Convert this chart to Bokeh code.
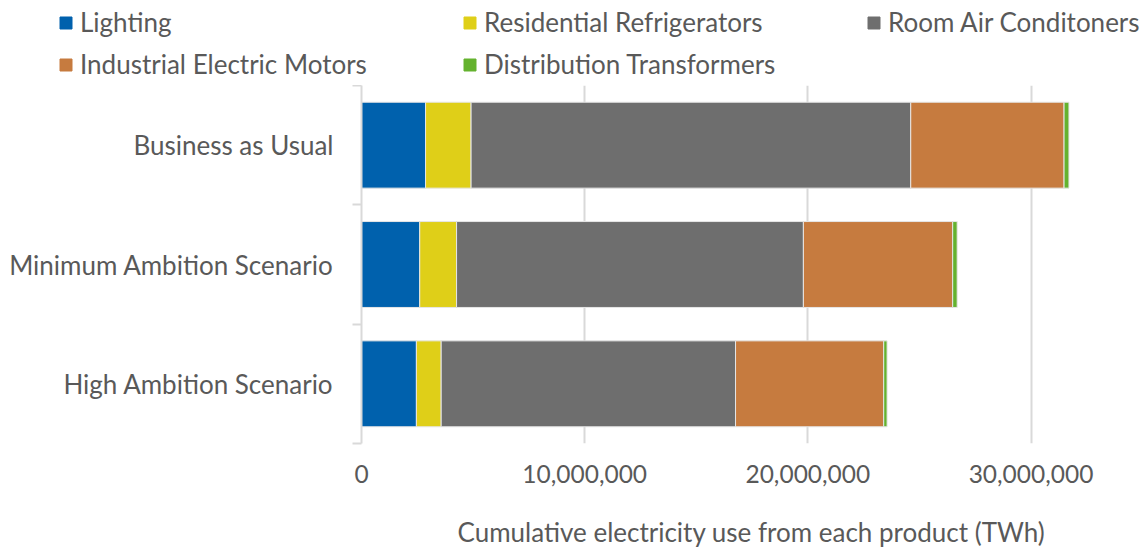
from bokeh.plotting import figure
from bokeh.models import (Range1d, FixedTicker, NumeralTickFormatter, Legend, LegendItem)
from bokeh.embed import file_html
from bokeh.resources import INLINE

# ---- data ----
scenarios = ["Business as Usual", "Minimum Ambition Scenario", "High Ambition Scenario"]
products = ["Lighting", "Residential Refrigerators", "Room Air Conditoners",
            "Industrial Electric Motors", "Distribution Transformers"]
lighting = [2870000, 2610000, 2460000]
refrigerators = [2040000, 1650000, 1110000]
air_conditioners = [19700000, 15540000, 13190000]
electric_motors = [6870000, 6690000, 6640000]
transformers = [220000, 200000, 150000]
x_ticks = [0, 10000000, 20000000, 30000000]
x_title = "Cumulative electricity use from each product (TWh)"

colors = ["#0061AD", "#DFCF18", "#6E6E6E", "#C67B3F", "#64B22E"]
FONT = "Lato"
TXT = "#595959"

# numeric category positions (top to bottom)
ypos = [len(scenarios) - 0.5 - i for i in range(len(scenarios))]
data = dict(y=ypos, lighting=lighting, refrigerators=refrigerators,
            air_conditioners=air_conditioners, electric_motors=electric_motors,
            transformers=transformers)
keys = ["lighting", "refrigerators", "air_conditioners", "electric_motors", "transformers"]

# ---------------- main chart ----------------
p = figure(width=1141, height=465, output_backend="svg", toolbar_location=None,
           x_range=Range1d(0, 34950000), y_range=Range1d(0, len(scenarios)),
           min_border_left=361, min_border_right=0, min_border_top=0, min_border_bottom=103)
p.outline_line_color = None

renderers = p.hbar_stack(keys, y="y", height=0.72, color=colors, source=data,
                         line_color="#e6e6e6", line_width=1)

# x axis
p.xaxis.ticker = FixedTicker(ticks=x_ticks)
p.xaxis.formatter = NumeralTickFormatter(format="0,0")
p.xaxis.axis_line_color = None
p.xaxis.major_tick_line_color = None
p.xaxis.minor_tick_line_color = None
p.xaxis.major_label_standoff = 15
p.xaxis.major_label_text_font = FONT
p.xaxis.major_label_text_font_size = "24.5px"
p.xaxis.major_label_text_color = TXT
p.xaxis.axis_label = x_title
p.xaxis.axis_label_text_font = FONT
p.xaxis.axis_label_text_font_size = "26px"
p.xaxis.axis_label_text_font_style = "normal"
p.xaxis.axis_label_text_color = TXT
p.xaxis.axis_label_standoff = 30

# y axis
p.yaxis.ticker = FixedTicker(ticks=ypos, minor_ticks=list(range(len(scenarios) + 1)))
p.yaxis.major_label_overrides = {y: s for y, s in zip(ypos, scenarios)}
p.yaxis.axis_line_color = "#d9d9d9"
p.yaxis.axis_line_width = 2
p.yaxis.major_tick_line_color = None
p.yaxis.major_tick_out = 0
p.yaxis.major_tick_in = 0
p.yaxis.minor_tick_line_color = "#d9d9d9"
p.yaxis.minor_tick_line_width = 2
p.yaxis.minor_tick_out = 9
p.yaxis.minor_tick_in = 0
p.yaxis.major_label_standoff = 19
p.yaxis.major_label_text_font = FONT
p.yaxis.major_label_text_font_size = "26px"
p.yaxis.major_label_text_color = TXT

# grid
p.ygrid.grid_line_color = None
p.xgrid.ticker = FixedTicker(ticks=x_ticks)
p.xgrid.grid_line_color = "#d9d9d9"
p.xgrid.grid_line_width = 2

# ---------------- legend strip (separate root, no frame alignment) ----------------
lg = figure(width=1141, height=85, output_backend="svg", toolbar_location=None,
            x_range=Range1d(0, 1), y_range=Range1d(0, 1),
            min_border=0, x_axis_type=None, y_axis_type=None)
lg.outline_line_color = None
lg.grid.grid_line_color = None
lg_renderers = lg.hbar_stack(keys, y="y", height=0.72, color=colors, source=data)
for r in lg_renderers:
    r.visible = False

legend = Legend(items=[LegendItem(label=lab, renderers=[r]) for lab, r in zip(products, lg_renderers)],
                location=(58, 5), orientation="horizontal", ncols=3,
                glyph_width=15, glyph_height=15, label_standoff=7, label_width=372,
                label_height=20, spacing=10, padding=0, margin=0,
                border_line_color=None, background_fill_alpha=0, inactive_fill_alpha=0,
                label_text_font=FONT, label_text_font_size="26px", label_text_color=TXT)
lg.add_layout(legend, "center")

open("out.html", "w").write(file_html([lg, p], INLINE))
